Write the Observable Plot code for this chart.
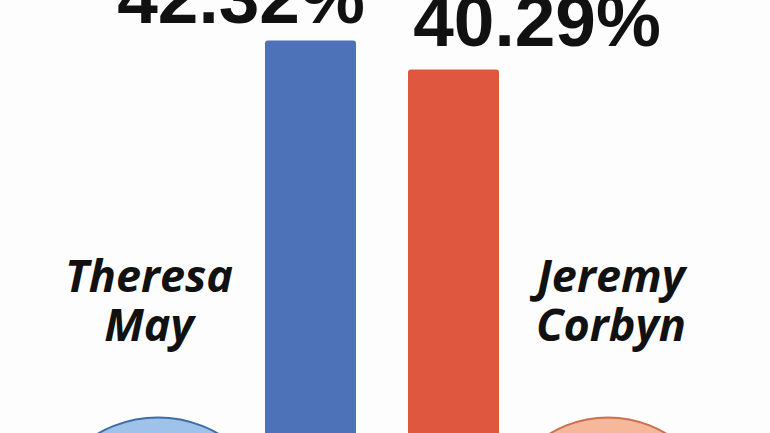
<!DOCTYPE html>
<html>
<head>
<meta charset="utf-8">
<script src="https://cdn.jsdelivr.net/npm/d3@7"></script>
<script src="https://cdn.jsdelivr.net/npm/@observablehq/plot@0.6"></script>
<style>
  html, body { margin: 0; padding: 0; background: #fdfdfd; overflow: hidden; }
  #chart svg { display: block; }
</style>
</head>
<body>
<div id="chart"></div>
<script>
// Data
const candidates = ["Theresa May", "Jeremy Corbyn"];
const nameLines = ["Theresa\nMay", "Jeremy\nCorbyn"];
const shares = [42.32, 40.29];
const labels = ["42.32%", "40.29%"];
const barColors = ["#4d72b8", "#e05740"];
const circleFill = ["#9fc2ea", "#f6b79b"];
const circleStroke = ["#3f6ea6", "#c9704f"];

const data = candidates.map((c, i) => ({
  candidate: c, name: nameLines[i], share: shares[i], label: labels[i],
  color: barColors[i], fill: circleFill[i], stroke: circleStroke[i]
}));

const pctStyle = {
  lineAnchor: "bottom", fontSize: 73, fontWeight: "bold",
  fontFamily: "Liberation Sans", fill: "#111"
};
const nameStyle = {
  lineAnchor: "bottom", lineHeight: 1.07, fontSize: 45, fontWeight: "bold",
  fontStyle: "italic", fontFamily: "Open Sans", fill: "#111"
};

const chart = Plot.plot({
  width: 770,
  height: 433,
  marginTop: 0,
  marginBottom: 0,
  marginLeft: 264,
  marginRight: 270,
  style: { background: "#fdfdfd", overflow: "hidden" },
  x: { domain: candidates, paddingInner: 0.361, paddingOuter: 0, axis: null },
  y: { domain: [14.85, 45.15], axis: null },
  marks: [
    Plot.barY(data, { x: "candidate", y: "share", fill: "color", rx: 3, clip: true }),
    // percentage labels
    Plot.text(data.filter(d => d.candidate === candidates[0]), {
      x: "candidate", y: "share", text: "label", dx: -70, dy: -18, ...pctStyle
    }),
    Plot.text(data.filter(d => d.candidate === candidates[1]), {
      x: "candidate", y: "share", text: "label", dx: 83, dy: -24, ...pctStyle
    }),
    // names
    Plot.text(data.filter(d => d.candidate === candidates[0]), {
      x: "candidate", text: "name", frameAnchor: "bottom", dx: -162, dy: -93, ...nameStyle
    }),
    Plot.text(data.filter(d => d.candidate === candidates[1]), {
      x: "candidate", text: "name", frameAnchor: "bottom", dx: 157, dy: -93, ...nameStyle
    }),
    // portrait circles at bottom
    Plot.dot(data.filter(d => d.candidate === candidates[0]), {
      x: "candidate", frameAnchor: "bottom", dx: -153, dy: 104, r: 120,
      fill: "fill", stroke: "stroke", strokeWidth: 2
    }),
    Plot.dot(data.filter(d => d.candidate === candidates[1]), {
      x: "candidate", frameAnchor: "bottom", dx: 154, dy: 97, r: 113,
      fill: "fill", stroke: "stroke", strokeWidth: 2
    })
  ]
});

document.getElementById("chart").appendChild(chart);
</script>
</body>
</html>
